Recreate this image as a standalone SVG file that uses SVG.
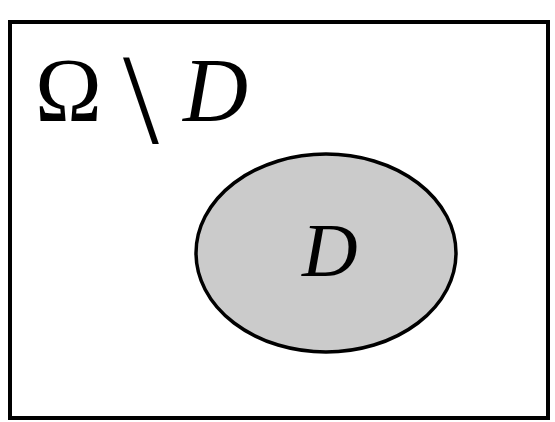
<svg xmlns="http://www.w3.org/2000/svg" width="555" height="422" viewBox="0 0 555 422">
<style>
.m{font-family:"Liberation Serif","Times New Roman",serif;fill:#000}
.it{font-style:italic}
</style>
<rect width="555" height="422" fill="#fff"/>
<g id="omega">
<rect x="10" y="22" width="538" height="396" fill="#fff" stroke="#000" stroke-width="4"/>
<text class="m" font-size="90" y="121"><tspan x="35">Ω</tspan><tspan x="123" font-size="129" dy="22">\</tspan><tspan class="it" x="183" dy="-22">D</tspan></text>
</g>
<g id="D">
<ellipse cx="326" cy="253" rx="130" ry="99" fill="#cbcbcb" stroke="#000" stroke-width="3.5"/>
<text class="m it" font-size="77" x="302" y="276">D</text>
</g>
<g id="connectors"/>
</svg>
